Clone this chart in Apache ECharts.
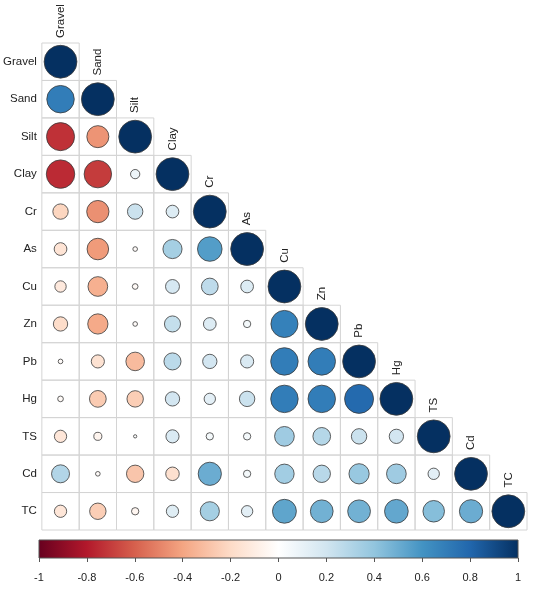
<!DOCTYPE html>
<html>
<head>
<meta charset="utf-8">
<script src="https://cdn.jsdelivr.net/npm/echarts@6/dist/echarts.min.js"></script>
<style>
  html, body { margin: 0; padding: 0; background: #fff; }
  #main { width: 533px; height: 590px; }
</style>
</head>
<body>
<div id="main"></div>
<script>
var chartDom = document.getElementById("main");
var myChart = echarts.init(chartDom);
var option;

// variables (same order on both axes)
var variables = ["Gravel", "Sand", "Silt", "Clay", "Cr", "As", "Cu", "Zn", "Pb", "Hg", "TS", "Cd", "TC"];

// lower triangle of the correlation matrix, one row per variable
var corrRows = [
  [1],
  [0.70, 1],
  [-0.73, -0.45, 1],
  [-0.75, -0.70, 0.08, 1],
  [-0.22, -0.46, 0.22, 0.15, 1],
  [-0.15, -0.43, -0.02, 0.34, 0.56, 1],
  [-0.12, -0.36, -0.03, 0.18, 0.26, 0.15, 1],
  [-0.19, -0.38, -0.02, 0.24, 0.15, 0.05, 0.68, 1],
  [-0.02, -0.16, -0.32, 0.27, 0.19, 0.16, 0.70, 0.70, 1],
  [-0.03, -0.26, -0.25, 0.19, 0.12, 0.22, 0.70, 0.70, 0.78, 1],
  [-0.14, -0.06, 0.01, 0.16, 0.05, 0.05, 0.36, 0.29, 0.22, 0.19, 1],
  [0.30, -0.02, -0.28, -0.17, 0.50, 0.05, 0.35, 0.28, 0.38, 0.36, 0.12, 1],
  [-0.14, -0.25, -0.05, 0.14, 0.34, 0.12, 0.53, 0.48, 0.48, 0.52, 0.43, 0.50, 1]
];

// corrplot RdBu palette, -1 .. 1
var palette = ["#67001F", "#B2182B", "#D6604D", "#F4A582", "#FDDBC7", "#FFFFFF",
               "#D1E5F0", "#92C5DE", "#4393C3", "#2166AC", "#053061"];

var cells = [];
corrRows.forEach(function (row, i) {
  row.forEach(function (v, j) {
    cells.push([j, i, v]);
  });
});

var font = "Liberation Sans";

option = {
  animation: false,
  backgroundColor: "#fff",
  textStyle: { fontFamily: font },
  grid: [
    { left: 40, top: 43, width: 487, height: 487 },
    {
      left: 39, top: 540, width: 479, height: 18,
      show: true,
      borderColor: "#555",
      borderWidth: 1,
      backgroundColor: {
        type: "linear", x: 0, y: 0, x2: 1, y2: 0,
        colorStops: palette.map(function (c, k) {
          return { offset: k / (palette.length - 1), color: c };
        })
      }
    }
  ],
  xAxis: [
    {
      gridIndex: 0,
      type: "category",
      data: variables,
      axisLine: { show: false },
      axisTick: { show: false },
      axisLabel: { show: false },
      splitLine: { show: false }
    },
    {
      gridIndex: 1,
      type: "value",
      min: -1,
      max: 1,
      interval: 0.2,
      position: "bottom",
      axisLine: { show: false },
      axisTick: { show: true, length: 4, lineStyle: { color: "#555" } },
      axisLabel: {
        margin: 14, fontSize: 11, color: "#222", fontFamily: font,
        formatter: function (v) { return String(Math.round(v * 10) / 10); }
      },
      splitLine: { show: false }
    }
  ],
  yAxis: [
    {
      gridIndex: 0,
      type: "category",
      data: variables,
      inverse: true,
      axisLine: { show: false },
      axisTick: { show: false },
      axisLabel: { margin: 5, fontSize: 11.5, color: "#222", fontFamily: font },
      splitLine: { show: false }
    },
    { gridIndex: 1, type: "value", show: false, min: 0, max: 1 }
  ],
  visualMap: {
    show: false,
    type: "continuous",
    min: -1,
    max: 1,
    dimension: 2,
    seriesIndex: 0,
    inRange: { color: palette }
  },
  series: [
    {
      type: "custom",
      xAxisIndex: 0,
      yAxisIndex: 0,
      data: cells,
      renderItem: function (params, api) {
        var c = api.coord([api.value(0), api.value(1)]);
        var s = api.size([1, 1]);
        var v = api.value(2);
        var rMax = s[0] * 0.44;
        var children = [
          {
            type: "rect",
            shape: { x: c[0] - s[0] / 2, y: c[1] - s[1] / 2, width: s[0], height: s[1] },
            style: { fill: "none", stroke: "#d4d4d4", lineWidth: 1 }
          },
          {
            type: "circle",
            shape: { cx: c[0], cy: c[1], r: rMax * Math.sqrt(Math.abs(v)) },
            style: { fill: api.visual("color"), stroke: "#3a3a3a", lineWidth: 0.8 }
          }
        ];
        if (api.value(0) === api.value(1)) {
          children.push({
            type: "text",
            x: c[0],
            y: c[1] - s[1] / 2 - 5,
            rotation: Math.PI / 2,
            style: {
              text: variables[api.value(0)],
              align: "left",
              verticalAlign: "middle",
              fontSize: 11.5,
              fontFamily: font,
              fill: "#222"
            }
          });
        }
        return { type: "group", children: children };
      }
    }
  ]
};

option && myChart.setOption(option);
</script>
</body>
</html>
